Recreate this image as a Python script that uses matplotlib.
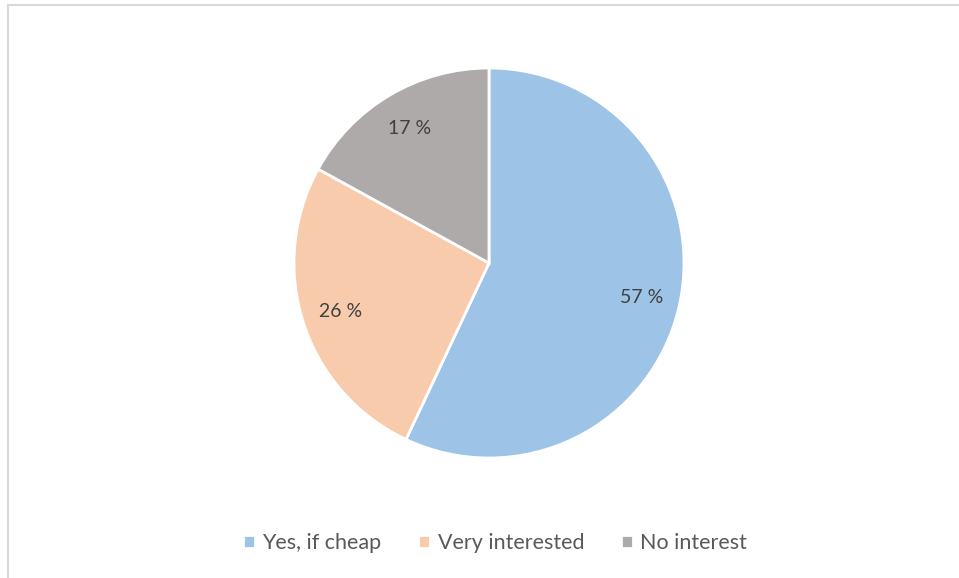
import matplotlib
matplotlib.use("Agg")
import matplotlib.pyplot as plt
from matplotlib.patches import Rectangle

labels = ["Yes, if cheap", "Very interested", "No interest"]
values = [57, 26, 17]
colors = ["#9DC3E6", "#F8CBAD", "#AEAAAA"]

plt.rcParams['font.family'] = ['Lato', 'DejaVu Sans']

fig = plt.figure(figsize=(9.59, 5.78), dpi=100)

# chart border (light gray frame, only top and left visible)
fig.patches.append(Rectangle((7.5 / 959, -0.1), 2.0, 1.1 - 5.5 / 578,
                             transform=fig.transFigure, fill=False,
                             edgecolor="#D9D9D9", linewidth=1.5))

ax = fig.add_axes([(489 - 195) / 959, (578 - 458) / 578, 390 / 959, 390 / 578])
wedges, texts, autotexts = ax.pie(values, colors=colors, startangle=90, counterclock=False,
                                  autopct=lambda p: f"{p:.0f} %", pctdistance=0.8,
                                  wedgeprops=dict(edgecolor="white", linewidth=2),
                                  textprops=dict(color="#404040", fontsize=14))
ax.set_xlim(-1, 1)
ax.set_ylim(-1, 1)
ax.set_aspect("equal")
ax.axis("off")

fig.legend(wedges, labels, loc="center", bbox_to_anchor=(495 / 959, 1 - 543 / 578),
           ncol=3, frameon=False, handlelength=0.55, handleheight=0.55,
           handletextpad=0.35, columnspacing=1.7,
           prop=dict(size=15.5), labelcolor="#595959")

fig.savefig("out.png", dpi=100)
